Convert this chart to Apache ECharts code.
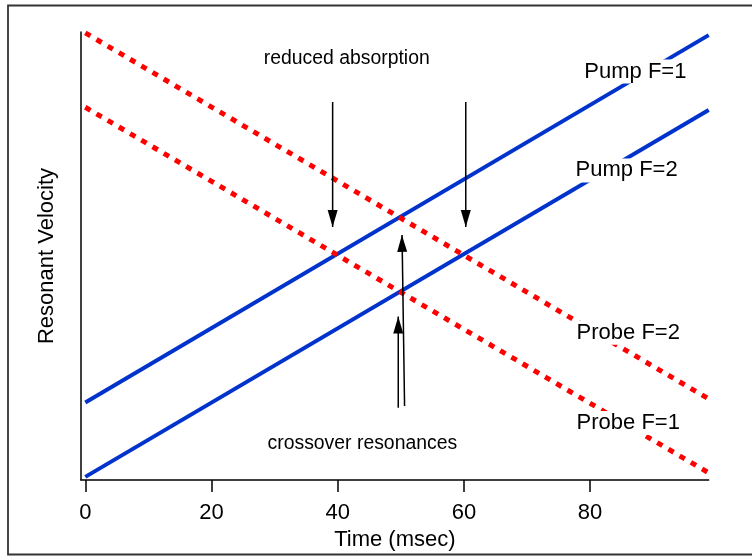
<!DOCTYPE html>
<html><head><meta charset="utf-8">
<script src="https://cdn.jsdelivr.net/npm/echarts@6/dist/echarts.min.js"></script>
<style>html,body{margin:0;padding:0;background:#fff}#c{width:752px;height:556px}</style>
</head><body><div id="c"></div>
<script>
const time = [0, 98.8];
const pumpF1 = [17.3, 99.3];
const pumpF2 = [0.7, 82.6];
const probeF2 = [99.8, 18.1];
const probeF1 = [83.2, 1.6];
const xTicks = [0, 20, 40, 60, 80];
const arrowDownA = [[39.2, 84.4], [39.2, 56.5]];
const arrowDownB = [[60.3, 84.4], [60.3, 56.5]];
const arrowUpA = [[49.6, 16.1], [49.6, 36.5]];
const arrowUpB = [[50.6, 16.5], [50.2, 54.7]];
const lineLabels = ['Pump F=1', 'Pump F=2', 'Probe F=2', 'Probe F=1'];
const notes = ['reduced absorption', 'crossover resonances'];

const FF = '"Liberation Sans", Arial, sans-serif';
const BLUE = '#0033cc', RED = '#ff0000';

function mainLine(vals, color, dashed) {
  return {
    type: 'line', symbol: 'none', silent: true,
    data: time.map((t, i) => [t, vals[i]]),
    lineStyle: { color: color, width: dashed ? 5 : 4, type: dashed ? [6, 7] : 'solid', cap: 'butt' },
    z: dashed ? 3 : 2
  };
}
function arrow(pts, up, rot) {
  return {
    type: 'line', silent: true, showSymbol: true, symbol: 'triangle',
    data: [
      { value: pts[0], symbol: 'none' },
      { value: pts[1], symbol: 'triangle', symbolSize: [10, 17],
        symbolRotate: (up ? 0 : 180) + (rot || 0), symbolOffset: [0, up ? 8.5 : -8.5] }
    ],
    itemStyle: { color: '#000' },
    lineStyle: { color: '#000', width: 1.5 },
    z: 5
  };
}
function label(txt, x, y, size, bg) {
  return {
    type: 'text', x: x, y: y, z: 100, silent: true,
    style: {
      text: txt, fill: '#000', fontSize: size, fontFamily: FF,
      align: 'left', verticalAlign: 'middle',
      backgroundColor: bg ? '#fff' : null, padding: bg ? [0, 2] : 0, lineHeight: 24
    }
  };
}

const chart = echarts.init(document.getElementById('c'), null, { renderer: 'canvas' });
chart.setOption({
  animation: false,
  backgroundColor: '#fff',
  grid: { left: 81, right: 43.3, top: 32, bottom: 76 },
  xAxis: {
    type: 'value', min: -0.68, max: 98.8,
    axisLine: { show: true, onZero: false, lineStyle: { color: '#000', width: 1.5 } },
    axisTick: { show: true, length: 12, customValues: xTicks, lineStyle: { color: '#000', width: 1.5 } },
    axisLabel: { customValues: xTicks, margin: 22, fontSize: 22, color: '#000', fontFamily: FF },
    splitLine: { show: false },
    name: 'Time (msec)', nameLocation: 'middle', nameGap: 49,
    nameTextStyle: { fontSize: 22, color: '#000', fontFamily: FF }
  },
  yAxis: {
    type: 'value', min: 0, max: 100,
    axisLine: { show: true, onZero: false, lineStyle: { color: '#000', width: 1.5 } },
    axisTick: { show: false }, axisLabel: { show: false }, splitLine: { show: false },
    name: 'Resonant Velocity', nameLocation: 'middle', nameGap: 23,
    nameTextStyle: { fontSize: 22, color: '#000', fontFamily: FF }
  },
  series: [
    mainLine(pumpF1, BLUE, false),
    mainLine(pumpF2, BLUE, false),
    mainLine(probeF2, RED, true),
    mainLine(probeF1, RED, true),
    arrow(arrowDownA, false),
    arrow(arrowDownB, false),
    arrow(arrowUpA, true),
    arrow(arrowUpB, true, 0.9)
  ],
  graphic: [
    { type: 'rect', z: 100, silent: true, shape: { x: 8, y: 5.5, width: 780, height: 549 },
      style: { fill: null, stroke: '#333', lineWidth: 1.8 } },
    label(lineLabels[0], 582.3, 71.6, 22, true),
    label(lineLabels[1], 573.6, 170.4, 22, true),
    label(lineLabels[2], 574.6, 332.7, 22, true),
    label(lineLabels[3], 574.6, 423.1, 22, true),
    label(notes[0], 263.7, 58.3, 19.4, false),
    label(notes[1], 267.5, 443.3, 19.4, false)
  ]
});
</script></body></html>
